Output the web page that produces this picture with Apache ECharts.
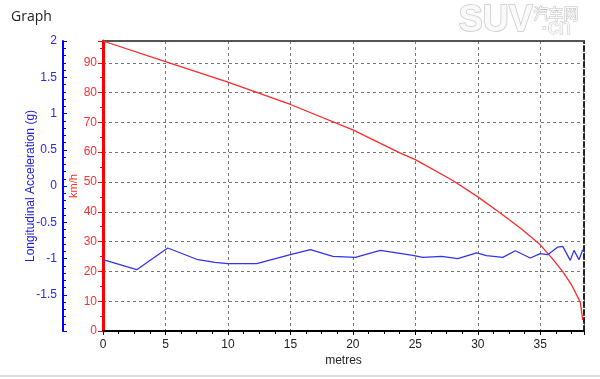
<!DOCTYPE html>
<html><head><meta charset="utf-8">
<script src="https://cdn.jsdelivr.net/npm/echarts@6/dist/echarts.min.js"></script>
<style>html,body{margin:0;padding:0;background:#fff}#c{width:600px;height:379px}</style>
</head><body><div id="c"></div>
<script>
// Speed (km/h) vs distance (m)
var speedDist = [0, 5, 10, 15, 20, 23.8, 25, 28, 30, 31.8, 33.5, 35, 35.9, 36.8, 37.5, 38.2, 38.4];
var speedKmh  = [97.3, 90.4, 83.5, 76, 67.5, 59.7, 57.5, 50.5, 45, 39.6, 34.2, 28.9, 24.6, 19.9, 15.5, 9.7, 3.7];
// Longitudinal acceleration (g) vs distance (m)
var accDist = [0, 2.7, 5.18, 7.6, 8.96, 10, 12.3, 15, 16.6, 18.4, 20.2, 22.2, 24.8, 25.6, 27.1, 28.4, 29.9, 30.7, 32, 33, 34.2, 35, 35.6, 36.4, 36.8, 37.4, 37.7, 38.1, 38.4];
var accG    = [-1.017, -1.154, -0.855, -1.017, -1.054, -1.072, -1.072, -0.948, -0.879, -0.971, -0.985, -0.888, -0.957, -0.985, -0.971, -1.003, -0.924, -0.961, -0.985, -0.893, -0.993, -0.934, -0.948, -0.842, -0.833, -1.026, -0.888, -1.017, -0.879];

function pairs(xs, ys){ return xs.map(function(x,i){ return [x, ys[i]]; }); }

var chart = echarts.init(document.getElementById('c'), null, {renderer:'canvas'});
var FONT = 'Liberation Sans';
chart.setOption({
  animation:false,
  textStyle:{fontFamily:FONT},
  title:{text:'Graph', left:6, top:5, textStyle:{fontSize:14, fontWeight:'normal', color:'#222', fontFamily:'Open Sans'}},
  grid:{left:103, right:16, top:41, bottom:48},
  xAxis:[{
    type:'value', min:0, max:38.5, interval:5,
    name:'metres', nameLocation:'middle', nameGap:24, nameMoveOverlap:false,
    nameTextStyle:{color:'#222', fontSize:12, fontFamily:FONT},
    axisLine:{show:true, onZero:false, lineStyle:{color:'#000', width:2}},
    axisTick:{show:true, length:4, lineStyle:{color:'#000'}},
    minorTick:{show:true, splitNumber:4, length:3, lineStyle:{color:'#000'}},
    axisLabel:{color:'#222', fontSize:12, margin:8, showMaxLabel:false},
    splitLine:{show:true, lineStyle:{color:'#777', type:[3,3], width:1}}
  },{
    type:'value', position:'top', min:0, max:38.5,
    axisLine:{show:true, onZero:false, lineStyle:{color:'#555', width:2}},
    axisTick:{show:false}, axisLabel:{show:false}, splitLine:{show:false}
  }],
  yAxis:[{
    type:'value', position:'left', min:0, max:97.3, interval:10,
    name:'km/h', nameLocation:'middle', nameGap:24, nameMoveOverlap:false,
    nameTextStyle:{color:'#ff2a2a', fontSize:11, fontFamily:FONT},
    axisLine:{show:true, onZero:false, lineStyle:{color:'#ff0000', width:3}},
    axisTick:{show:true, length:5, lineStyle:{color:'#ff0000'}},
    minorTick:{show:true, splitNumber:2, length:3, lineStyle:{color:'#ff0000'}},
    axisLabel:{color:'#ff3030', fontSize:12, margin:6, showMaxLabel:false},
    splitLine:{show:true, lineStyle:{color:'#777', type:[3,3], width:1}}
  },{
    type:'value', position:'left', offset:40, min:-2, max:2, interval:0.5,
    name:'Longitudinal Acceleration (g)', nameLocation:'middle', nameGap:26, nameMoveOverlap:false,
    nameTextStyle:{color:'#2020e0', fontSize:12, fontFamily:FONT},
    axisLine:{show:true, onZero:false, lineStyle:{color:'#0000ff', width:2}},
    axisTick:{show:true, inside:true, length:4, lineStyle:{color:'#0000ff'}},
    minorTick:{show:true, splitNumber:5, length:3, lineStyle:{color:'#0000ff'}},
    axisLabel:{color:'#2a2ae0', fontSize:12, margin:6, showMinLabel:false},
    splitLine:{show:false}
  },{
    type:'value', position:'right', min:0, max:97.3,
    axisLine:{show:true, onZero:false, lineStyle:{color:'#222', width:2, type:[5,3]}},
    axisTick:{show:false}, axisLabel:{show:false}, splitLine:{show:false}
  }],
  graphic:[
    {type:'text', left:458, top:2, style:{text:'SUV', fontSize:36, fontWeight:'bold', fontFamily:FONT, fill:'#fafafa', stroke:'#c8c8c8', lineWidth:1.5}},
    {type:'text', left:533, top:5, style:{text:'汽车网', fontSize:15, fontFamily:'Noto Sans CJK SC', fill:'#fafafa', stroke:'#c0c0c0', lineWidth:1}},
    {type:'text', left:540, top:16, style:{text:'·cn', fontSize:22, fontFamily:FONT, fill:'#fafafa', stroke:'#c0c0c0', lineWidth:1}},
    {type:'line', shape:{x1:0, y1:376, x2:600, y2:376}, style:{stroke:'#bbb', lineWidth:1}}
  ],
  series:[{
    type:'line', xAxisIndex:0, yAxisIndex:0, data:pairs(speedDist, speedKmh),
    showSymbol:false, lineStyle:{color:'#ff2a2a', width:1.3}, z:3
  },{
    type:'line', xAxisIndex:0, yAxisIndex:1, data:pairs(accDist, accG),
    showSymbol:false, lineStyle:{color:'#3333ee', width:1.3}, z:3
  }]
});
</script></body></html>
